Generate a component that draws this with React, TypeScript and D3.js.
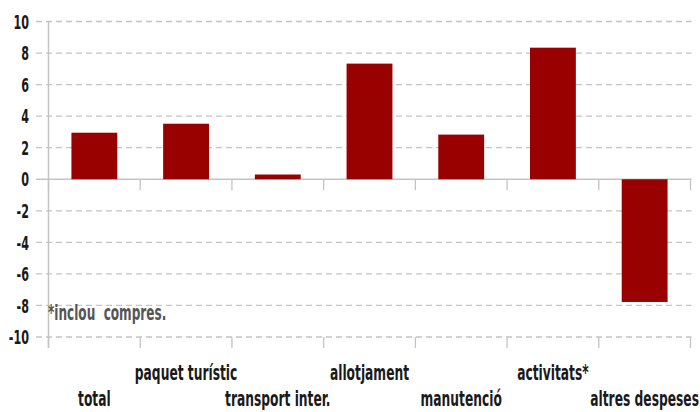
import React from 'react'
import * as d3 from 'd3'

const categories = [
  'total',
  'paquet turístic',
  'transport inter.',
  'allotjament',
  'manutenció',
  'activitats*',
  'altres despeses',
]
const values = [2.95, 3.52, 0.3, 7.33, 2.83, 8.34, -7.78]
const yTicks = [10, 8, 6, 4, 2, 0, -2, -4, -6, -8, -10]
const note = '*inclou\u00a0 compres.'

const W = 700
const H = 412
const margin = { top: 21.5, right: 9.5, bottom: 75, left: 48.5 }
const font = "'DejaVu Sans Condensed', sans-serif"

const App = () => {
  const x = d3
    .scaleBand()
    .domain(categories)
    .range([margin.left, W - margin.right])
    .padding(0)
  const y = d3.scaleLinear().domain([-10, 10]).range([H - margin.bottom, margin.top])
  const bw = x.bandwidth()
  const tickEdges = [...categories.map((c) => x(c)), W - margin.right]

  return (
    <svg width={W} height={H} style={{ position: 'absolute', left: 0, top: 0, background: '#fff' }}>
      {/* gridlines */}
      {yTicks.map((t) => (
        <line
          key={'g' + t}
          x1={36}
          x2={W - margin.right + 1}
          y1={y(t)}
          y2={y(t)}
          stroke="#c4c4c4"
          strokeWidth={1.3}
          strokeDasharray={t === 0 ? undefined : '6,4'}
        />
      ))}
      {/* y labels */}
      {yTicks.map((t) => (
        <text
          key={'l' + t}
          x={29}
          y={y(t)}
          dy="0.36em"
          textAnchor="end"
          fontFamily={font}
          fontWeight="bold"
          fontSize={20}
          fill="#1a1a1a"
          transform={`translate(29,0) scale(0.62,1) translate(-29,0)`}
        >
          {t}
        </text>
      ))}
      {/* bars */}
      {categories.map((c, i) => (
        <rect
          key={c}
          x={x(c) + bw / 4}
          width={bw / 2}
          y={y(Math.max(0, values[i]))}
          height={Math.abs(y(values[i]) - y(0))}
          fill="#990000"
        />
      ))}
      {/* category ticks at 0 and -10 */}
      {tickEdges.map((ex, i) => (
        <g key={'t' + i} stroke="#c4c4c4" strokeWidth={1.3}>
          <line x1={ex} x2={ex} y1={y(0)} y2={y(0) + 11} />
          <line x1={ex} x2={ex} y1={y(-10)} y2={y(-10) + 11} />
        </g>
      ))}
      {/* y axis */}
      <line
        x1={margin.left}
        x2={margin.left}
        y1={margin.top}
        y2={y(-10) + 11}
        stroke="#c4c4c4"
        strokeWidth={1.5}
      />
      {/* category labels */}
      {categories.map((c, i) => {
        const cx = x(c) + bw / 2
        return (
          <text
            key={'c' + c}
            x={cx}
            y={i % 2 === 0 ? 406 : 380}
            textAnchor="middle"
            fontFamily={font}
            fontWeight="bold"
            fontSize={22}
            fill="#1a1a1a"
            transform={`translate(${cx},0) scale(0.62,1) translate(${-cx},0)`}
          >
            {c}
          </text>
        )
      })}
      <text
        x={48}
        y={320}
        fontFamily={font}
        fontWeight="bold"
        fontSize={21}
        fill="#555"
        transform="translate(48,0) scale(0.64,1) translate(-48,0)"
      >
        {note}
      </text>
    </svg>
  )
}

export default App
